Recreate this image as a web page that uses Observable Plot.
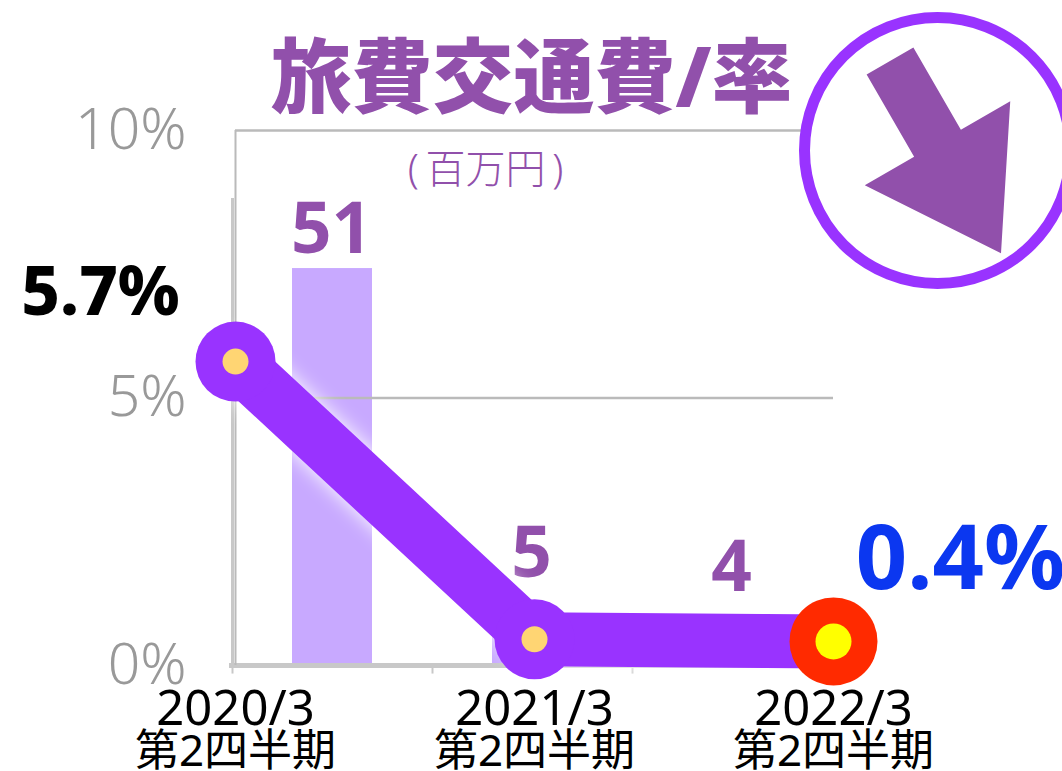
<!DOCTYPE html>
<html lang="ja">
<head>
<meta charset="utf-8">
<style>html,body{margin:0;padding:0;background:#fff;overflow:hidden}</style>
<script src="https://cdn.jsdelivr.net/npm/d3@7"></script>
<script src="https://cdn.jsdelivr.net/npm/@observablehq/plot@0.6"></script>
</head>
<body>
<script>
const periods = ["2020/3", "2021/3", "2022/3"];
const quarter = "第2四半期";
const expense = [51, 5, 4];
const ratio = [5.68, 0.49, 0.45];
const ratioTicks = [0, 5, 10];
const firstRatioLabel = "5.7%";
const lastRatioLabel = "0.4%";
const titleText = "旅費交通費/率";
const unitText = "(\u2009百万円\u2009)";

const W = 1062, H = 771;
const FONT = "'Noto Sans','Noto Sans CJK JP',sans-serif";
const PURPLE = "#9933ff", TEXTPURPLE = "#9150ab", BAR = "#c8a9ff", GRID = "#bababa";

const table = periods.map((period, i) => ({period, expense: expense[i], ratio: ratio[i]}));
const note = (text, o) => Plot.text([text], {frameAnchor: "top-left", text: d => d, lineAnchor: "middle", ...o});

// Secondary axis: amount in million yen, bars
const barLabel = (i, dy) => Plot.text([table[i]], {
  x: "period", y: "expense", text: d => String(d.expense), dy, dx: -1,
  fill: TEXTPURPLE, fontSize: 71, fontWeight: 700, lineAnchor: "middle"
});
const bars = Plot.plot({
  width: W, height: H, marginTop: 0, marginBottom: 0, marginLeft: 229, marginRight: 230,
  style: {fontFamily: FONT, overflow: "visible"},
  x: {type: "band", domain: periods, range: [232, 832], paddingInner: 0.6, paddingOuter: 0.3, axis: null},
  y: {domain: [0, 60], range: [665, 198], axis: null},
  marks: [
    Plot.barY(table, {x: "period", y: "expense", fill: BAR}),
    Plot.ruleY([0], {stroke: "#c8c8c8", strokeWidth: 5}),
    Plot.ruleX(periods, {x: d => d, y1: 0, y2: -1.1, dx: -100, stroke: "#c8c8c8", strokeWidth: 2}),
    Plot.ruleX([periods[0]], {x: d => d, y1: 0, y2: 60, dx: -100, stroke: "#c8c8c8", strokeWidth: 3}),
    barLabel(0, -38), barLabel(1, -72), barLabel(2, -66)
  ]
});

// Down-arrow icon, drawn along its own axis from the tail
const arrowShape = {
  draw(c, l) {
    const shaft = 27, head = 84, neck = 95;
    c.moveTo(-shaft, 0); c.lineTo(shaft, 0); c.lineTo(shaft, -neck); c.lineTo(head, -neck);
    c.lineTo(0, -l); c.lineTo(-head, -neck); c.lineTo(-shaft, -neck); c.closePath();
  }
};

const chart = Plot.plot({
  width: W, height: H, margin: 0,
  style: {fontFamily: FONT, overflow: "visible"},
  x: {type: "point", domain: periods, range: [234, 833], padding: 0, axis: null},
  y: {domain: [0, 10], range: [665, 130]},
  marks: [
    () => bars,
    Plot.ruleY(ratioTicks.slice(1), {x1: () => periods[0], x2: () => periods[2], stroke: GRID, strokeWidth: 2.5}),
    Plot.ruleX([periods[0]], {x: d => d, y1: 0, y2: 10, stroke: GRID, strokeWidth: 2}),
    Plot.axisY({ticks: ratioTicks, tickFormat: d => d + "%", tickSize: 0, tickPadding: 0, dx: 186,
      fontSize: 57, fontWeight: 300, fill: "#999999", label: null}),
    Plot.text(periods, {x: d => d, frameAnchor: "top", dy: 709, text: d => d, fontSize: 49, fill: "#000", lineAnchor: "middle"}),
    Plot.text(periods, {x: d => d, frameAnchor: "top", dy: 751, text: () => quarter, fontSize: 44, fill: "#000", lineAnchor: "middle"}),
    note(titleText, {dx: 531, dy: 80, textAnchor: "middle", fontSize: 81, fontWeight: 900, fill: TEXTPURPLE}),
    note(unitText, {dx: 485, dy: 170, textAnchor: "middle", fontSize: 40, fontWeight: 300, fill: TEXTPURPLE}),
    Plot.dot([0], {frameAnchor: "top-left", dx: 937, dy: 150, r: 133, fill: "#fff", stroke: PURPLE, strokeWidth: 11}),
    Plot.vector([0], {frameAnchor: "top-left", dx: 889.5, dy: 60.5, length: 222, rotate: 150, anchor: "start",
      shape: arrowShape, fill: TEXTPURPLE, stroke: "none"}),
    Plot.line(table, {x: "period", y: "ratio", stroke: PURPLE, strokeWidth: 54, strokeLinejoin: "miter",
      imageFilter: "drop-shadow(0 0 10px #ffffff)"}),
    Plot.dot(table.slice(0, 2), {x: "period", y: "ratio", r: 40, fill: PURPLE}),
    Plot.dot(table.slice(0, 2), {x: "period", y: "ratio", r: 13, fill: "#ffd573"}),
    Plot.dot(table.slice(2), {x: "period", y: "ratio", r: 44, fill: "#ff2a00"}),
    Plot.dot(table.slice(2), {x: "period", y: "ratio", r: 18, fill: "#ffff00"}),
    note(firstRatioLabel, {dx: 100, dy: 293, textAnchor: "middle", fontSize: 67, fontWeight: 800, fill: "#000"}),
    note(lastRatioLabel, {dx: 960, dy: 560, textAnchor: "middle", fontSize: 90, fontWeight: 700, fill: "#0b37f0"})
  ]
});
document.body.appendChild(chart);
</script>
</body>
</html>
